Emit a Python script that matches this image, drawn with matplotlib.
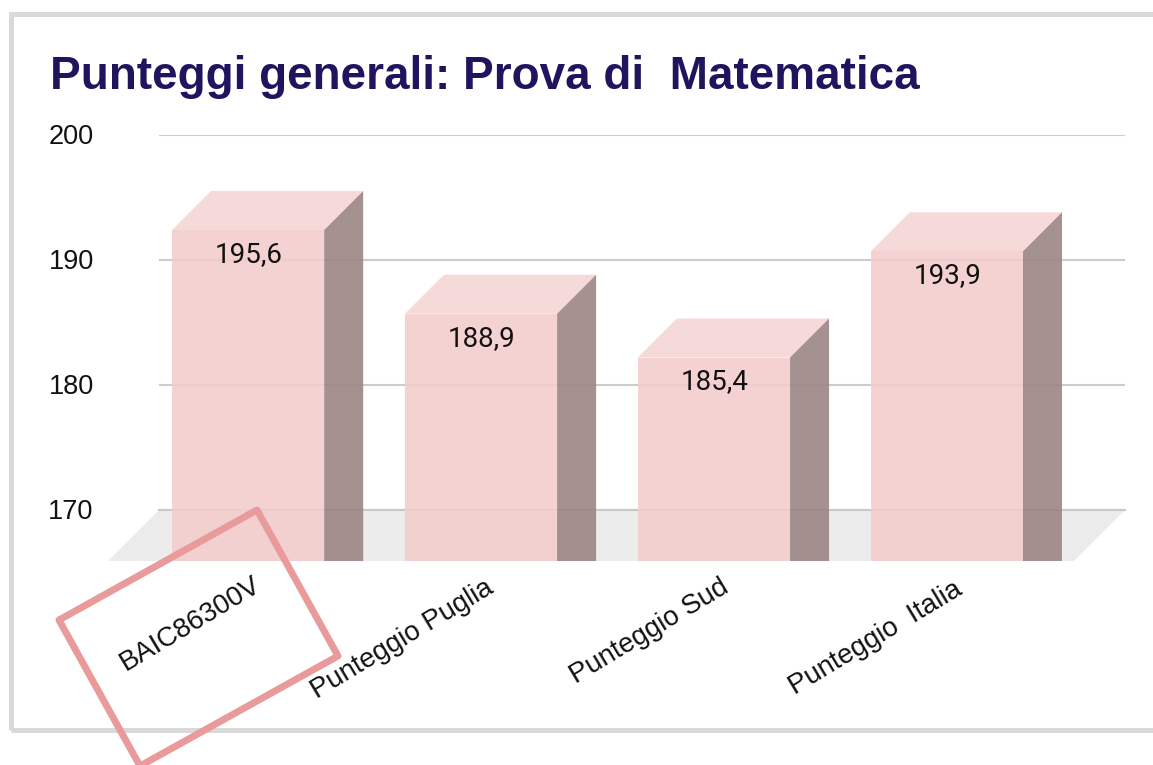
import matplotlib
matplotlib.use("Agg")
import matplotlib.pyplot as plt
from matplotlib.patches import Polygon
from matplotlib.transforms import IdentityTransform, ScaledTranslation

categories = ["BAIC86300V", "Punteggio Puglia", "Punteggio Sud", "Punteggio  Italia"]
values = [195.6, 188.9, 185.4, 193.9]
value_labels = ["195,6", "188,9", "185,4", "193,9"]
y_ticks = [170, 180, 190, 200]
title = "Punteggi generali: Prova di  Matematica"

W, H = 1153, 765
fig = plt.figure(figsize=(W / 100, H / 100), dpi=100)
fig.patch.set_facecolor("white")
ax = fig.add_axes([159 / W, 1 - 510 / H, (1125 - 159) / W, (510 - 135) / H])
ax.set_xlim(-0.55, 3.597)
ax.set_ylim(170, 200)
ax.patch.set_alpha(0)
for s in ax.spines.values():
    s.set_visible(False)
ax.set_yticks(y_ticks)
ax.set_xticks([])
ax.tick_params(axis="y", length=0, pad=47, labelsize=19.5, labelcolor="#111111")
shift = ScaledTranslation(0, -2 / 100, fig.dpi_scale_trans)
for t in ax.get_yticklabels():
    t.set_family("Liberation Sans")
    t.set_verticalalignment("center")
    t.set_transform(t.get_transform() + shift)
ax.grid(axis="y", color="#cccccc", lw=1.5)
ax.set_axisbelow(True)

def px(x, y):
    return (x, H - y)

id_tr = IdentityTransform()
# frame
fig.add_artist(Polygon([px(11, 730), px(11, 14), px(1160, 14)], closed=False, fill=False,
                       ec="#d9d9d9", lw=3.6, transform=id_tr))
fig.add_artist(Polygon([px(11, 730), px(1160, 730)], closed=False, fill=False,
                       ec="#d9d9d9", lw=3.6, transform=id_tr))
# floor
ax.add_patch(Polygon([px(108, 561), px(159, 510), px(1125, 510), px(1074, 561)],
                     fc="#ececec", ec="none", transform=id_tr, zorder=1.5, clip_on=False))
ax.axhline(170, color="#c8c8c8", lw=1.5, zorder=1.6, clip_on=False)

w = 0.653
dx, dy = 39, 39
fig.canvas.draw()
for i, v in enumerate(values):
    xl, yt = ax.transData.transform((i - w / 2, v))
    xr, _ = ax.transData.transform((i + w / 2, v))
    yt -= 1
    yb = H - 561
    # front, top, side faces are derived from the data position
    ax.add_patch(Polygon([(xl - dx, yb), (xr - dx, yb), (xr - dx, yt - dy), (xl - dx, yt - dy)],
                         fc="#f4cdcd", ec="none", alpha=0.9, transform=id_tr, zorder=3, clip_on=False))
    ax.add_patch(Polygon([(xl - dx, yt - dy), (xr - dx, yt - dy), (xr, yt), (xl, yt)],
                         fc="#f5d5d5", ec="none", alpha=0.9, transform=id_tr, zorder=3, clip_on=False))
    ax.add_patch(Polygon([(xr - dx, yb), (xr, yb), (xr, yt), (xr - dx, yt - dy)],
                         fc="#9c8585", ec="none", alpha=0.9, transform=id_tr, zorder=3, clip_on=False))
    ax.text((xl + xr) / 2 - dx + 0.5, yt - dy - 24.5, value_labels[i], transform=id_tr, ha="center", va="center",
            family="Roboto", fontsize=20, color="#111111", zorder=5)

label_anchor = [(259, 583), (491, 586), (727, 585), (960, 587)]
for lab, (ax_x, ax_y) in zip(categories, label_anchor):
    ax.text(ax_x, H - ax_y, lab, transform=id_tr, rotation=31, rotation_mode="anchor",
            ha="right", va="center", family="Liberation Sans", fontsize=19.8, color="#111111", zorder=6)

fig.text(50 / W, 1 - 77 / H, title, family="Liberation Sans", weight="bold", fontsize=33,
         color="#21145f", ha="left", va="center")

# hand-drawn annotation box
fig.add_artist(Polygon([px(59, 620), px(257, 510), px(338, 656), px(140, 766)], closed=True, fill=False,
                       ec="#e99a9a", lw=5, transform=id_tr, zorder=10, joinstyle="round"))

fig.savefig("out.png", dpi=100)
